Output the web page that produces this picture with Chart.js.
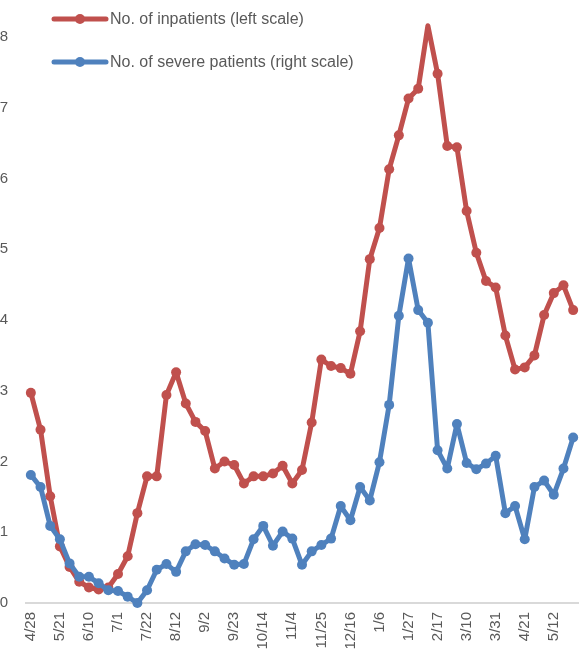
<!DOCTYPE html>
<html>
<head>
<meta charset="utf-8">
<script src="https://cdn.jsdelivr.net/npm/chart.js@4"></script>
<style>
  html, body { margin: 0; padding: 0; background: #fff; }
  #myChart { display: block; }
</style>
</head>
<body>
<canvas id="myChart" width="583" height="649"></canvas>
<script>
// weekly dates (only every third one is labelled)
const weeks = [
    "4/28", "5/7", "5/14", "5/21", "5/27", "6/3", "6/10", "6/17", "6/24", "7/1",
    "7/8", "7/15", "7/22", "7/29", "8/5", "8/12", "8/19", "8/26", "9/2", "9/9",
    "9/16", "9/23", "9/30", "10/7", "10/14", "10/21", "10/28", "11/4", "11/11", "11/18",
    "11/25", "12/2", "12/9", "12/16", "12/23", "12/30", "1/6", "1/13", "1/20", "1/27",
    "2/3", "2/10", "2/17", "2/24", "3/3", "3/10", "3/17", "3/24", "3/31", "4/7",
    "4/14", "4/21", "4/28", "5/5", "5/12", "5/19", "5/26",
];
// No. of inpatients (left scale)
const inpatients = [
    2.97, 2.45, 1.51, 0.80, 0.51, 0.30, 0.22, 0.19, 0.22, 0.41,
    0.66, 1.27, 1.79, 1.79, 2.94, 3.26, 2.82, 2.56, 2.43, 1.90,
    2.00, 1.95, 1.69, 1.79, 1.79, 1.83, 1.94, 1.69, 1.88, 2.55,
    3.44, 3.35, 3.32, 3.24, 3.84, 4.86, 5.30, 6.13, 6.61, 7.13,
    7.27, 8.16, 7.48, 6.46, 6.44, 5.54, 4.95, 4.55, 4.46, 3.78,
    3.30, 3.33, 3.50, 4.07, 4.38, 4.49, 4.14,
];
// No. of severe patients (right scale, axis not shown)
const severe = [
    1.81, 1.64, 1.09, 0.90, 0.56, 0.37, 0.37, 0.28, 0.18, 0.17,
    0.09, 0.00, 0.18, 0.47, 0.55, 0.44, 0.73, 0.83, 0.82, 0.73,
    0.63, 0.54, 0.55, 0.90, 1.09, 0.81, 1.01, 0.91, 0.54, 0.73,
    0.82, 0.91, 1.37, 1.17, 1.64, 1.45, 1.99, 2.80, 4.06, 4.87,
    4.14, 3.96, 2.16, 1.90, 2.53, 1.98, 1.89, 1.97, 2.08, 1.27,
    1.37, 0.90, 1.64, 1.73, 1.53, 1.90, 2.34,
];
const seriesNames = ["No. of inpatients (left scale)", "No. of severe patients (right scale)"];

const RED = "#C0504D";
const BLUE = "#4F81BD";
const TEXT = "#595959";
const FONT = "'Liberation Sans', Arial, sans-serif";

// legend drawn by hand: line with dot, one item per row
const lineLegend = {
    id: "lineLegend",
    afterDraw(chart) {
        const ctx = chart.ctx;
        const rows = [19, 62];
        chart.data.datasets.slice().sort((a, b) => a.legendRow - b.legendRow).forEach((ds, i) => {
            const y = rows[i];
            ctx.save();
            ctx.strokeStyle = ds.borderColor;
            ctx.lineWidth = 5;
            ctx.lineCap = "round";
            ctx.beginPath();
            ctx.moveTo(54, y);
            ctx.lineTo(106, y);
            ctx.stroke();
            ctx.fillStyle = ds.borderColor;
            ctx.beginPath();
            ctx.arc(80, y, 5, 0, Math.PI * 2);
            ctx.fill();
            ctx.fillStyle = TEXT;
            ctx.font = "16px " + FONT;
            ctx.textBaseline = "middle";
            ctx.fillText(ds.label, 110, y + 1);
            ctx.restore();
        });
    },
};

window.onload = function () {
    const ctx = document.getElementById("myChart").getContext("2d");
    const lineStyle = {
        borderWidth: 5,
        pointRadius: 5,
        pointBorderWidth: 0,
        borderJoinStyle: "round",
        borderCapStyle: "round",
        tension: 0,
        clip: false,
    };
    window.graph = new Chart(ctx, {
        type: "line",
        data: {
            labels: weeks,
            datasets: [
                {
                    ...lineStyle,
                    label: seriesNames[1],
                    legendRow: 1,
                    data: severe,
                    yAxisID: "y1",
                    borderColor: BLUE,
                    backgroundColor: BLUE,
                },
                {
                    ...lineStyle,
                    label: seriesNames[0],
                    legendRow: 0,
                    data: inpatients,
                    yAxisID: "y",
                    borderColor: RED,
                    backgroundColor: RED,
                },
            ],
        },
        options: {
            responsive: false,
            animation: false,
            devicePixelRatio: 1,
            layout: { padding: { top: 37, right: 5, left: 0, bottom: 0 } },
            plugins: {
                legend: { display: false },
                tooltip: { enabled: false },
            },
            scales: {
                x: {
                    offset: true,
                    grid: { display: false, drawTicks: false },
                    border: { display: true, color: "#D9D9D9", width: 2 },
                    ticks: {
                        autoSkip: false,
                        maxRotation: 90,
                        minRotation: 90,
                        padding: 9,
                        color: TEXT,
                        font: { family: FONT, size: 15 },
                        callback: function (value, index) {
                            return index % 3 === 0 ? weeks[index] : "";
                        },
                    },
                    afterFit: (axis) => {
                        axis.height = 46;
                        axis.paddingLeft = 0;
                        axis.paddingRight = 0;
                    },
                },
                y: {
                    position: "left",
                    min: 0,
                    max: 8,
                    grid: { display: false, drawTicks: false },
                    border: { display: false },
                    ticks: {
                        stepSize: 1,
                        padding: 18,
                        color: TEXT,
                        font: { family: FONT, size: 15 },
                    },
                    afterFit: (axis) => { axis.width = 26; },
                },
                y1: {
                    position: "right",
                    display: false,
                    min: 0,
                    max: 8,
                },
            },
        },
        plugins: [lineLegend],
    });
};
</script>
</body>
</html>
